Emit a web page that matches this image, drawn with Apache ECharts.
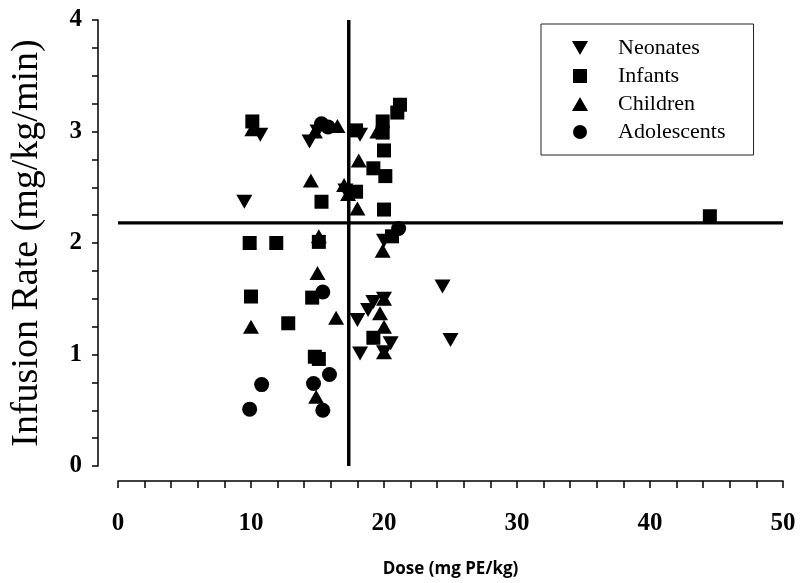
<!DOCTYPE html>
<html>
<head>
<meta charset="utf-8">
<script src="https://cdn.jsdelivr.net/npm/echarts@6/dist/echarts.min.js"></script>
<style>
  html, body { margin: 0; padding: 0; background: #fff; }
  #chart { width: 803px; height: 583px; }
</style>
</head>
<body>
<div id="chart"></div>
<script>
// Dose (mg PE/kg) vs infusion rate (mg/kg/min), by age group
const neonates = [
  [10.7, 2.97], [9.5, 2.37], [14.4, 2.91], [15.0, 3.0], [18.2, 2.97], [17.1, 2.47],
  [20.0, 2.02], [18.0, 1.31], [18.2, 1.01], [18.8, 1.4], [19.2, 1.47], [20.0, 1.5],
  [20.5, 1.1], [20.0, 1.02], [24.4, 1.61], [25.0, 1.13]
];
const infants = [
  [10.1, 3.09], [9.9, 2.0], [11.9, 2.0], [10.0, 1.52], [12.8, 1.28], [15.3, 2.37],
  [15.1, 2.01], [14.6, 1.51], [14.8, 0.98], [15.1, 0.96], [17.9, 3.01], [19.9, 3.09],
  [19.9, 2.99], [21.0, 3.17], [21.2, 3.24], [20.0, 2.83], [19.2, 2.67], [20.1, 2.6],
  [17.9, 2.46], [20.0, 2.3], [19.2, 1.15], [44.5, 2.24], [20.6, 2.06]
];
const children = [
  [10.1, 3.02], [10.0, 1.25], [14.5, 2.56], [14.8, 3.0], [16.5, 3.05], [15.0, 1.73],
  [16.4, 1.33], [14.9, 0.62], [18.1, 2.74], [17.0, 2.52], [17.3, 2.44], [18.0, 2.31],
  [19.5, 3.0], [19.9, 1.93], [20.0, 1.5], [19.7, 1.37], [20.0, 1.25], [20.0, 1.02],
  [15.1, 2.06]
];
const adolescents = [
  [15.3, 3.07], [15.8, 3.04], [15.4, 1.56], [10.8, 0.73], [9.9, 0.51], [15.9, 0.82],
  [14.7, 0.74], [15.4, 0.5], [21.1, 2.13]
];

// Median reference lines
const doseCut = 17.35;
const rateCut = 2.18;

const xTicks = { min: 0, max: 50, interval: 10 };
const yTicks = { min: 0, max: 4, interval: 1 };

const downTriangle = 'path://M0,0L2,0L1,1.75Z';
const upTriangle = 'path://M1,0L2,1.75L0,1.75Z';
const square = 'path://M0,0L1,0L1,1L0,1Z';

const serif = '"Liberation Serif", "Times New Roman", serif';

const chart = echarts.init(document.getElementById('chart'), null, { renderer: 'canvas' });

function scatter(name, data, symbol, size) {
  return {
    name, type: 'scatter', data, symbol, symbolSize: size, symbolKeepAspect: true,
    itemStyle: { color: '#000', opacity: 1 }, z: 3, silent: true
  };
}

const tickLine = { color: '#000', width: 1.5 };

chart.setOption({
  animation: false,
  backgroundColor: '#fff',
  grid: { left: 117, right: 20, top: 20, bottom: 117 },
  legend: {
    orient: 'vertical',
    left: 541, top: 24,
    padding: [13, 28, 12, 31],
    itemGap: 6,
    itemWidth: 66, itemHeight: 14,
    borderColor: '#222', borderWidth: 1,
    selectedMode: false,
    textStyle: { fontFamily: serif, fontSize: 22, color: '#000' },
    data: [
      { name: 'Neonates', icon: downTriangle },
      { name: 'Infants', icon: square },
      { name: 'Children', icon: upTriangle },
      { name: 'Adolescents', icon: 'circle' }
    ]
  },
  xAxis: {
    type: 'value', min: xTicks.min, max: xTicks.max, interval: xTicks.interval,
    offset: 15,
    name: 'Dose (mg PE/kg)', nameLocation: 'middle', nameGap: 80,
    nameTextStyle: { fontFamily: '"Open Sans", "Noto Sans", sans-serif', fontWeight: 'bold', fontSize: 17, color: '#000' },
    axisLine: { show: true, onZero: false, lineStyle: tickLine },
    axisTick: { show: true, inside: false, length: 7, lineStyle: tickLine },
    minorTick: { show: true, splitNumber: 5, length: 7, lineStyle: tickLine },
    axisLabel: { margin: 30, fontFamily: serif, fontWeight: 'bold', fontSize: 25, color: '#000' },
    splitLine: { show: false }
  },
  yAxis: {
    type: 'value', min: yTicks.min, max: yTicks.max, interval: yTicks.interval,
    offset: 20,
    name: 'Infusion Rate (mg/kg/min)', nameLocation: 'middle', nameGap: 52,
    nameTextStyle: { fontFamily: serif, fontSize: 38, color: '#000' },
    axisLine: { show: true, onZero: false, lineStyle: tickLine },
    axisTick: { show: true, inside: false, length: 6, lineStyle: tickLine },
    minorTick: { show: true, splitNumber: 4, length: 6, lineStyle: tickLine },
    axisLabel: { margin: 16, fontFamily: serif, fontWeight: 'bold', fontSize: 25, color: '#000' },
    splitLine: { show: false }
  },
  series: [
    {
      name: 'doseCut', type: 'line', data: [[doseCut, yTicks.min], [doseCut, yTicks.max]],
      symbol: 'none', lineStyle: { color: '#000', width: 3.5 }, z: 2, silent: true
    },
    {
      name: 'rateCut', type: 'line', data: [[xTicks.min, rateCut], [xTicks.max, rateCut]],
      symbol: 'none', lineStyle: { color: '#000', width: 3.2 }, z: 2, silent: true
    },
    scatter('Neonates', neonates, downTriangle, 16),
    scatter('Infants', infants, 'rect', 14),
    scatter('Children', children, upTriangle, 16),
    scatter('Adolescents', adolescents, 'circle', 15)
  ]
});
</script>
</body>
</html>
